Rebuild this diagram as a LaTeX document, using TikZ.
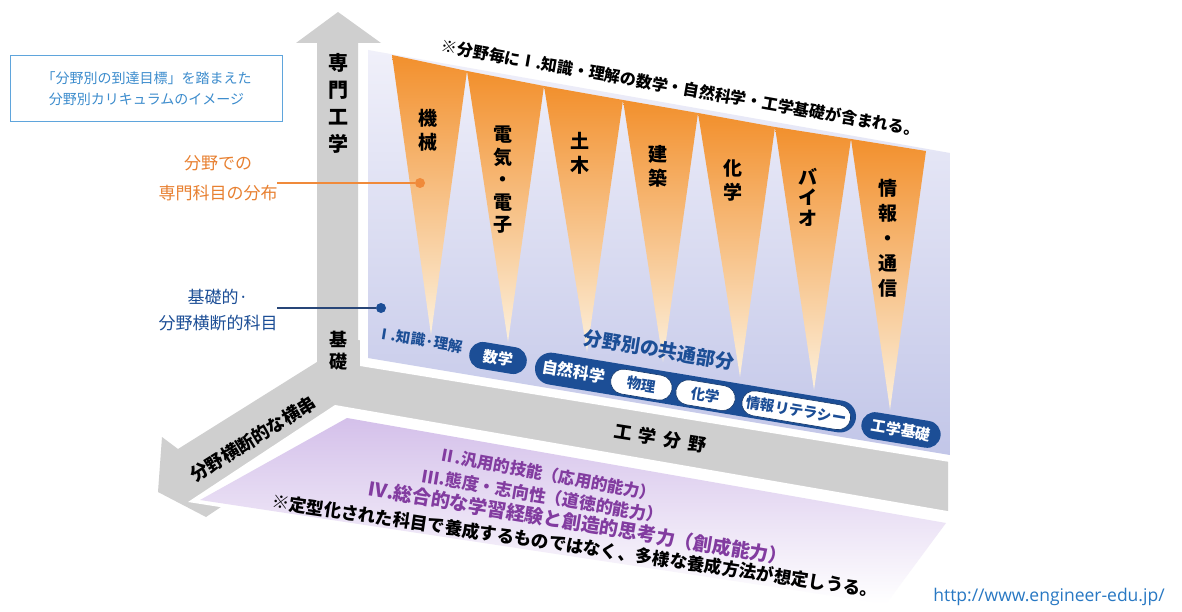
\documentclass[tikz,border=0pt]{standalone}
\usepackage{fontspec}
\newfontfamily\jp{Noto Sans CJK JP}
\newfontfamily\urlfont{Open Sans}
\usetikzlibrary{shapes.misc}
\definecolor{grayc}{RGB}{207,207,207}
\definecolor{dblue}{RGB}{28,78,150}
\definecolor{dblueline}{RGB}{40,70,120}
\definecolor{orangetxt}{RGB}{232,128,48}
\definecolor{orangedot}{RGB}{240,138,58}
\definecolor{boxblue}{RGB}{60,140,205}
\definecolor{boxline}{RGB}{95,165,220}
\definecolor{purtxt}{RGB}{130,60,160}
\definecolor{purfill}{RGB}{212,192,234}
\definecolor{lavtop}{RGB}{240,240,250}
\definecolor{lavbot}{RGB}{194,198,232}
\definecolor{orA}{RGB}{242,144,45}
\definecolor{orB}{RGB}{247,178,100}
\definecolor{orC}{RGB}{252,240,220}
\definecolor{urlblue}{RGB}{40,120,195}
\begin{document}
\begin{tikzpicture}[x=1pt,y=-1pt,
  vlab/.style={font=\jp\bfseries\fontsize{19}{24}\selectfont, align=center, inner sep=0pt, text=black},
  bpill/.style={rounded rectangle, fill=dblue, text=white, font=\jp\bfseries\fontsize{15}{15}\selectfont, minimum height=27, inner sep=0pt, rotate=-9.4},
  wpill/.style={rounded rectangle, fill=white, draw=dblue!70!black, line width=0.6pt, text=dblue, font=\jp\bfseries\fontsize{14.5}{15}\selectfont, minimum height=25, inner sep=0pt},
  ortri/.style={top color=orA, middle color=orB, bottom color=orC},
  purline/.style={font=\jp\bfseries\fontsize{#1}{#1}\selectfont, text=purtxt, inner sep=0pt}
]
\useasboundingbox (0,0) rectangle (1182,612);
\fill[white] (0,0) rectangle (1182,612);

% gray axes (vertical arrow, diagonal arrow, horizontal band)
\fill[grayc] (338,12) -- (381,43) -- (358,43) -- (358,340) -- (948,440) -- (948,525)
  -- (350,420) -- (206,517) -- (158,492) -- (162,437) -- (178,449) -- (317,362)
  -- (317,43) -- (296,43) -- cycle;

% back panel
\fill[white] (360,43) -- (956,146) -- (956,463) -- (360,366) -- cycle;
\shade[top color=lavtop, bottom color=lavbot] (368,50) -- (950,153) -- (950,455) -- (368,358) -- cycle;

% orange triangles
\shade[ortri] (392,55) -- (467,71) -- (431,335) -- cycle;
\shade[ortri] (467,71) -- (544,86) -- (508,342) -- cycle;
\shade[ortri] (544,86) -- (623,100) -- (587,352) -- cycle;
\shade[ortri] (623,100) -- (698,113) -- (663,362) -- cycle;
\shade[ortri] (698,113) -- (775,127) -- (740,377) -- cycle;
\shade[ortri] (775,127) -- (851,139) -- (814,390) -- cycle;
\shade[ortri] (851,139) -- (926,151) -- (890,410) -- cycle;

% floor
\fill[white] (335,405) -- (953,512) -- (953,530) -- (890,612) -- (188,502) -- cycle;
\shade[shading angle=-25, top color=purfill, middle color=purfill!85!white, bottom color=white]
  (347,418) -- (946,523) -- (886,604) -- (200,500) -- cycle;

% top note
\node[font=\jp\bfseries\fontsize{16}{16}\selectfont, rotate=-10, inner sep=0pt] (note) at (681,88)
  {※分野毎にⅠ.知識・理解の数学・自然科学・工学基礎が含まれる。};

% field labels
\node[vlab] (t1) at (428,130) {機\\械};
\node[vlab, font=\jp\bfseries\fontsize{19}{22.5}\selectfont] (t2) at (503,180) {電\\気\\・\\電\\子};
\node[vlab] (t3) at (580,153) {土\\木};
\node[vlab] (t4) at (658,166) {建\\築};
\node[vlab] (t5) at (733,180) {化\\学};
\node[vlab, font=\jp\bfseries\fontsize{19}{20.5}\selectfont] (t6) at (808,197) {バ\\イ\\オ};
\node[vlab, font=\jp\bfseries\fontsize{19}{25}\selectfont] (t7) at (888,238) {情\\報\\・\\通\\信};

% axis labels
\node[vlab, font=\jp\bfseries\fontsize{20}{27}\selectfont] (senmon) at (338,103) {専\\門\\工\\学};
\node[vlab, font=\jp\bfseries\fontsize{18}{22}\selectfont] (kiso) at (338,351) {基\\礎};
\node[font=\jp\bfseries\fontsize{18}{18}\selectfont, rotate=32, inner sep=0pt] (yokogushi) at (253,439) {分野横断的な横串};
\node[font=\jp\bfseries\fontsize{18}{18}\selectfont, rotate=-9, inner sep=0pt] (kogakubunya) at (660,438)
  {工\hspace{7pt}学\hspace{7pt}分\hspace{7pt}野};

% left legend
\node[font=\jp\fontsize{14}{21}\selectfont, text=boxblue, draw=boxline, line width=1.5pt,
  minimum width=272, minimum height=66, align=center, inner sep=0pt] (box) at (146.5,88.5)
  {「分野別の到達目標」を踏まえた\\分野別カリキュラムのイメージ};
\node[font=\jp\fontsize{17}{30}\selectfont, text=orangetxt, align=center, inner sep=0pt] (olab) at (218,178)
  {分野での\\専門科目の分布};
\coordinate (ostart) at (277,183);
\node[circle, fill=orangedot, inner sep=0pt, minimum size=10] (odot) at (420,183) {};
\draw[orangedot, line width=1.5pt] (ostart) -- (odot);

\node[font=\jp\fontsize{17}{26}\selectfont, text=dblue, align=center, inner sep=0pt] (blab) at (218,310)
  {基礎的·\\分野横断的科目};
\coordinate (bstart) at (277,308);
\node[circle, fill=dblue, inner sep=0pt, minimum size=10] (bdot) at (381,308) {};
\draw[dblueline, line width=1.5pt] (bstart) -- (bdot);

% common subjects row
\node[font=\jp\bfseries\fontsize{14.5}{15}\selectfont, text=dblue, rotate=-9.4, inner sep=0pt] (chishiki) at (420,340) {Ⅰ.知識·理解};
\node[bpill, minimum width=58] (suugaku) at (498,358) {数学};
\node[font=\jp\bfseries\fontsize{19}{19}\selectfont, text=dblue, rotate=-9.4, inner sep=0pt] (kyotsu) at (659,350) {分野別の共通部分};
\begin{scope}[shift={(535,366)}, rotate=-9.4, transform shape]
  \node[rounded rectangle, fill=dblue, minimum width=325, minimum height=32, anchor=west, inner sep=0pt] (grp) at (0,0) {};
  \node[font=\jp\bfseries\fontsize{16}{16}\selectfont, text=white, inner sep=0pt] (shizen) at (39,-1) {自然科学};
  \node[wpill, minimum width=62] (butsuri) at (108,1) {物理};
  \node[wpill, minimum width=60] (kagaku) at (173,1) {化学};
  \node[wpill, minimum width=110] (joho) at (265,1) {情報リテラシー};
\end{scope}
\node[bpill, minimum width=80] (kogakukiso) at (901,430) {工学基礎};

% floor texts
\node[purline=16.5, rotate=-10.4] (l2) at (548,474) {Ⅱ.汎用的技能（応用的能力）};
\node[purline=17, rotate=-9.6] (l3) at (543,496) {Ⅲ.態度・志向性（道徳的能力）};
\node[purline=19, rotate=-9.4] (l4) at (578,523) {Ⅳ.総合的な学習経験と創造的思考力（創成能力）};
\node[font=\jp\bfseries\fontsize{17.5}{18}\selectfont, rotate=-8.4, inner sep=0pt] (l5) at (575,546)
  {※定型化された科目で養成するものではなく、多様な養成方法が想定しうる。};

% url
\node[font=\urlfont\fontsize{17.5}{18}\selectfont, text=urlblue, inner sep=0pt] (url) at (1049,597) {http://www.engineer-edu.jp/};
\end{tikzpicture}
\end{document}
